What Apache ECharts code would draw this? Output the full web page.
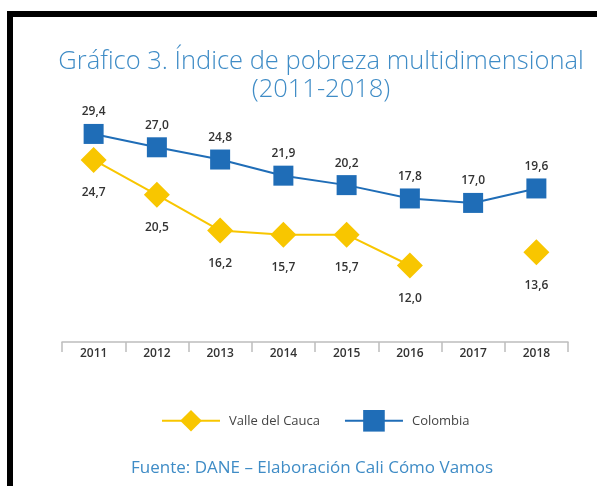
<!DOCTYPE html>
<html>
<head>
<meta charset="utf-8">
<script src="https://cdn.jsdelivr.net/npm/echarts@6/dist/echarts.min.js"></script>
<style>
  html, body { margin: 0; padding: 0; background: #fff; }
  #main { width: 597px; height: 486px; }
</style>
</head>
<body>
<div id="main"></div>
<script>
// values
const years = ['2011', '2012', '2013', '2014', '2015', '2016', '2017', '2018'];
const valle = [24.7, 20.5, 16.2, 15.7, 15.7, 12.0, null, 13.6];
const colombia = [29.4, 27.0, 24.8, 21.9, 20.2, 17.8, 17.0, 19.6];

const BLUE = '#1f6db7';
const YELLOW = '#f8c600';
const TITLE_BLUE = '#3f8cc6';

const chart = echarts.init(document.getElementById('main'));

const fmt = (p) => p.value == null ? '' : p.value.toFixed(1).replace('.', ',');

const option = {
    backgroundColor: '#fff',
    animation: false,
    title: {
        text: 'Gráfico 3. Índice de pobreza multidimensional\n(2011-2018)',
        left: 316,
        textAlign: 'center',
        top: 43,
        textStyle: {
            color: TITLE_BLUE,
            fontFamily: 'Open Sans',
            fontSize: 25.5,
            fontWeight: 300,
            lineHeight: 28,
        },
    },
    legend: {
        top: 405,
        left: 156,
        itemWidth: 58,
        itemHeight: 27,
        itemGap: 24,
        textStyle: { color: '#444', fontFamily: 'Open Sans', fontSize: 13, padding: [0, 0, 0, 4] },
        data: ['Valle del Cauca', 'Colombia'],
    },
    graphic: [
        { type: 'rect', shape: { x: 7, y: 11, width: 590, height: 6 }, style: { fill: '#000' } },
        { type: 'rect', shape: { x: 7, y: 11, width: 6, height: 475 }, style: { fill: '#000' } },
        {
            type: 'text', left: 131, top: 460,
            style: {
                text: 'Fuente: DANE – Elaboración Cali Cómo Vamos',
                fill: TITLE_BLUE, font: '17px "Open Sans"',
            },
        },
    ],
    grid: { left: 62, right: 29, top: 100, bottom: 144 },
    xAxis: {
        type: 'category',
        data: years,
        boundaryGap: true,
        axisLine: { onZero: false, lineStyle: { color: '#bdbdbd', width: 1.5 } },
        axisTick: { show: true, length: 10, lineStyle: { color: '#bdbdbd', width: 1.5 } },
        axisLabel: { color: '#333', fontFamily: 'Open Sans', fontSize: 12, fontWeight: 600, margin: 6 },
    },
    yAxis: [
        { type: 'value', min: -8, max: 35.5, show: false },
        { type: 'value', min: 2.8, max: 31.9, show: false },
    ],
    series: [
        {
            name: 'Valle del Cauca',
            type: 'line',
            yAxisIndex: 1,
            data: valle,
            connectNulls: false,
            symbol: 'diamond',
            symbolSize: 26,
            lineStyle: { color: YELLOW, width: 2 },
            itemStyle: { color: YELLOW },
            label: {
                show: true, position: 'bottom', distance: 14, formatter: fmt,
                color: '#333', fontFamily: 'Open Sans', fontSize: 12, fontWeight: 600,
            },
        },
        {
            name: 'Colombia',
            type: 'line',
            yAxisIndex: 0,
            data: colombia,
            symbol: 'rect',
            symbolSize: 20,
            lineStyle: { color: BLUE, width: 2 },
            itemStyle: { color: BLUE },
            label: {
                show: true, position: 'top', distance: 6, formatter: fmt,
                color: '#333', fontFamily: 'Open Sans', fontSize: 12, fontWeight: 600,
            },
        },
    ],
};

chart.setOption(option);
</script>
</body>
</html>
